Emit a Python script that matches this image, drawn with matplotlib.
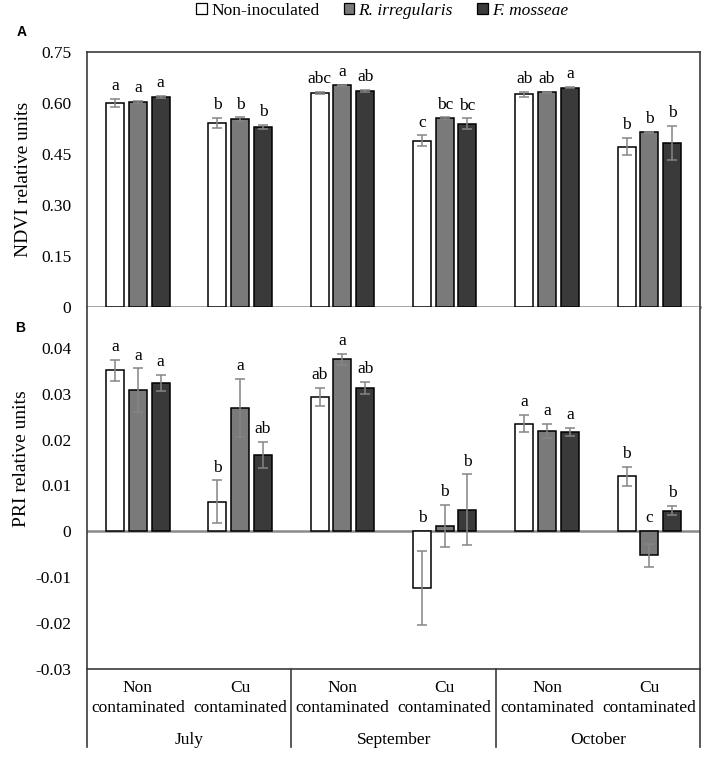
#!/usr/bin/env python

import numpy as np
import matplotlib

matplotlib.use("Agg")
import matplotlib.pyplot as plt
from matplotlib.patches import Patch
from matplotlib.transforms import blended_transform_factory

plt.rcParams["font.family"] = ["Liberation Serif", "DejaVu Serif"]

treatments = ["Non-inoculated", "R. irregularis", "F. mosseae"]
soils = ["Non\ncontaminated", "Cu\ncontaminated"] * 3
months = ["July", "September", "October"]

# NDVI (panel A)
ndvi_non = [0.600, 0.541, 0.629, 0.488, 0.625, 0.471]
ndvi_ri = [0.603, 0.552, 0.651, 0.555, 0.631, 0.513]
ndvi_fm = [0.617, 0.528, 0.635, 0.538, 0.644, 0.482]
ndvi_non_err = [0.012, 0.015, 0.004, 0.016, 0.007, 0.025]
ndvi_ri_err = [0.003, 0.005, 0.002, 0.002, 0.002, 0.001]
ndvi_fm_err = [0.002, 0.006, 0.003, 0.016, 0.002, 0.050]
ndvi_non_let = ["a", "b", "abc", "c", "ab", "b"]
ndvi_ri_let = ["a", "b", "a", "bc", "ab", "b"]
ndvi_fm_let = ["a", "b", "ab", "bc", "a", "b"]
ndvi_ticks = [0, 0.15, 0.30, 0.45, 0.60, 0.75]
ndvi_ticklabels = ["0", "0.15", "0.30", "0.45", "0.60", "0.75"]

# PRI (panel B)
pri_non = [0.0351, 0.0065, 0.0293, -0.0124, 0.0235, 0.0120]
pri_ri = [0.0308, 0.0269, 0.0375, 0.00125, 0.0219, -0.0052]
pri_fm = [0.0323, 0.0166, 0.0313, 0.0047, 0.0217, 0.0045]
pri_non_err = [0.0023, 0.0046, 0.0020, 0.0081, 0.0018, 0.0021]
pri_ri_err = [0.0047, 0.0063, 0.0012, 0.0046, 0.0015, 0.0025]
pri_fm_err = [0.0017, 0.0028, 0.0013, 0.0077, 0.0009, 0.0010]
pri_non_let = ["a", "b", "ab", "b", "a", "b"]
pri_ri_let = ["a", "a", "a", "b", "a", "c"]
pri_fm_let = ["a", "ab", "ab", "b", "a", "b"]
pri_ticks = [-0.03, -0.02, -0.01, 0, 0.01, 0.02, 0.03, 0.04]
pri_ticklabels = ["-0.03", "-0.02", "-0.01", "0", "0.01", "0.02", "0.03", "0.04"]

colors = ["white", "#7a7a7a", "#3a3a3a"]
FRAME = "#3c3c3c"
ERRC = "#858585"
FS = 12.5


def draw_panel(ax, series, errors, letters):
    x = np.arange(len(soils))
    for k, (vals, errs, lets) in enumerate(zip(series, errors, letters)):
        pos = x + (k - 1) * 0.222
        ax.bar(pos, vals, width=0.176, color=colors[k], edgecolor="black",
               linewidth=1.1, zorder=3)
        ax.errorbar(pos, vals, yerr=errs, fmt="none", ecolor=ERRC,
                    elinewidth=1.1, capsize=3.5, capthick=1.1, zorder=4)
        for p, v, e, t in zip(pos, vals, errs, lets):
            ax.annotate(t, (p, max(v + e, 0)), xytext=(0, 3.5),
                        textcoords="offset points", ha="center",
                        va="bottom", fontsize=FS)
    ax.set_xlim(-0.5, len(soils) - 0.5)
    ax.set_xticks([])
    ax.tick_params(axis="y", length=0, pad=11, labelsize=FS)
    for s in ax.spines.values():
        s.set_color(FRAME)
        s.set_linewidth(1.2)


fig = plt.figure(figsize=(7.04, 7.58), dpi=100)
axA = fig.add_axes([0.1232, 0.595, 0.8718, 0.3368])
axB = fig.add_axes([0.1232, 0.1174, 0.8718, 0.4776])

draw_panel(axA, [ndvi_non, ndvi_ri, ndvi_fm],
           [ndvi_non_err, ndvi_ri_err, ndvi_fm_err],
           [ndvi_non_let, ndvi_ri_let, ndvi_fm_let])
axA.set_ylim(0, 0.75)
axA.set_yticks(ndvi_ticks, ndvi_ticklabels)
axA.spines["bottom"].set_color("#8a8a8a")
axA.spines["bottom"].set_linewidth(1.8)

draw_panel(axB, [pri_non, pri_ri, pri_fm],
           [pri_non_err, pri_ri_err, pri_fm_err],
           [pri_non_let, pri_ri_let, pri_fm_let])
axB.set_ylim(-0.03, 0.0489)
axB.set_yticks(pri_ticks, pri_ticklabels)
axB.spines["top"].set_visible(False)
axB.axhline(0, color="#8a8a8a", linewidth=1.8, zorder=2)

fig.text(0.033, 0.763, "NDVI relative units", rotation=90, ha="center",
         va="center", fontsize=14)
fig.text(0.031, 0.395, "PRI relative units", rotation=90, ha="center",
         va="center", fontsize=14)
fig.text(0.031, 0.958, "A", family="Liberation Sans", weight="bold",
         fontsize=10, ha="center", va="center")
fig.text(0.029, 0.567, "B", family="Liberation Sans", weight="bold",
         fontsize=10, ha="center", va="center")

# category table under panel B
tr = blended_transform_factory(axB.transData, fig.transFigure)
for b in [-0.5, 1.5, 3.5, 5.5]:
    axB.plot([b, b], [0.1174, 0.0145], transform=tr, color=FRAME,
             linewidth=1.2, clip_on=False)
for i, s in enumerate(soils):
    axB.text(i, 0.0795, s, transform=tr, ha="center", va="center",
             fontsize=FS, linespacing=1.3)
for j, m in enumerate(months):
    axB.text(2 * j + 0.5, 0.0235, m, transform=tr, ha="center",
             va="center", fontsize=FS)

handles = [Patch(facecolor=c, edgecolor="black", linewidth=0.9)
           for c in colors]
leg = fig.legend(handles, treatments, loc="center", ncol=3,
                 bbox_to_anchor=(0.543, 0.986), frameon=False, fontsize=FS,
                 handlelength=0.6, handleheight=0.6, handletextpad=0.25,
                 columnspacing=1.4)
for t in leg.get_texts()[1:]:
    t.set_style("italic")

fig.savefig("out.png", dpi=100)
